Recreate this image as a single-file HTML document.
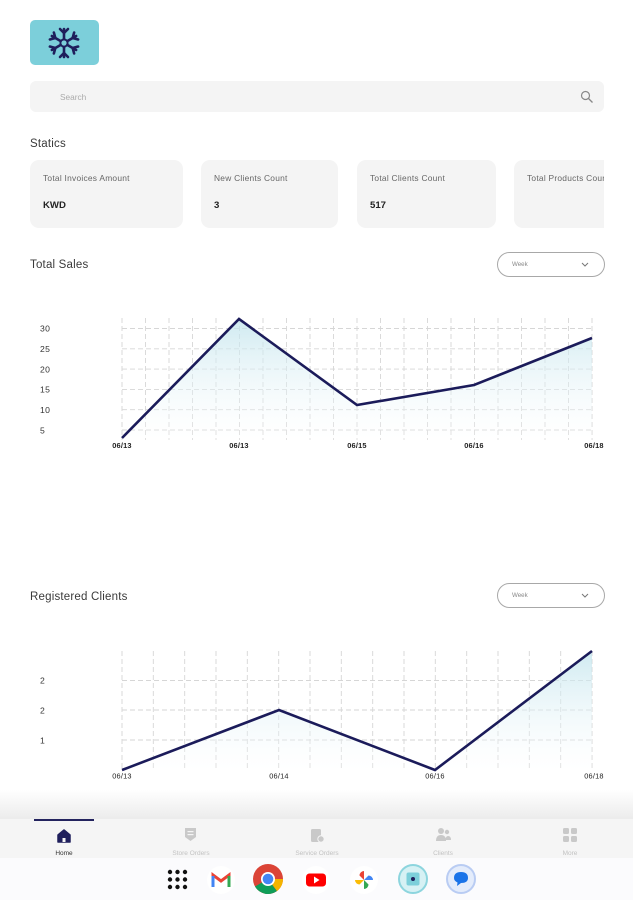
<!DOCTYPE html>
<html><head><meta charset="utf-8">
<style>
html,body{margin:0;padding:0;}
body{width:633px;height:900px;position:relative;overflow:hidden;background:#fff;font-family:"Liberation Sans",sans-serif;}
.abs{position:absolute;}
.card{position:absolute;top:160px;height:68px;background:#f4f4f4;border-radius:9px;overflow:hidden;}
.card .t{position:absolute;left:13px;top:13px;font-size:8.4px;letter-spacing:0.25px;color:#666;white-space:nowrap;}
.card .v{position:absolute;left:13px;top:40px;font-size:9.6px;font-weight:bold;color:#222;}
.h{position:absolute;left:30px;font-size:11.5px;letter-spacing:0.2px;color:#3a3a3a;}
.dd{position:absolute;left:497px;width:106px;height:23px;border:1px solid #a8a8a8;border-radius:13px;}
.dd span{position:absolute;left:14px;top:8px;font-size:6.2px;color:#888;}
.nl{position:absolute;top:850px;font-size:6.5px;color:#c2c2c2;transform:translateX(-50%);white-space:nowrap;}
</style></head><body>

<!-- logo -->
<div class="abs" style="left:30px;top:20px;width:69px;height:45px;background:#7ccfda;border-radius:5px;"></div>
<svg class="abs" style="left:44px;top:25px" width="40" height="36" viewBox="-20 -18 40 36">
 <g stroke="#1f1f5c" stroke-width="2.6" stroke-linecap="round" fill="none">
  <g id="arm"><line x1="0" y1="-4" x2="0" y2="-14"/><line x1="0" y1="-10" x2="-4" y2="-14"/><line x1="0" y1="-10" x2="4" y2="-14"/></g>
  <use href="#arm" transform="rotate(60)"/><use href="#arm" transform="rotate(120)"/><use href="#arm" transform="rotate(180)"/><use href="#arm" transform="rotate(240)"/><use href="#arm" transform="rotate(300)"/>
  <circle cx="0" cy="0" r="3.6" stroke-width="2"/>
 </g>
</svg>

<!-- search -->
<div class="abs" style="left:30px;top:81px;width:574px;height:31px;background:#f4f4f4;border-radius:6px;"></div>
<div class="abs" style="left:60px;top:92px;font-size:8.3px;color:#aaa;">Search</div>
<svg class="abs" style="left:580px;top:90px" width="14" height="14" viewBox="0 0 14 14"><circle cx="5.5" cy="5.5" r="4" stroke="#888" stroke-width="1.2" fill="none"/><line x1="8.5" y1="8.5" x2="12.5" y2="12.5" stroke="#888" stroke-width="1.3"/></svg>

<div class="h" style="top:138px;">Statics</div>

<div class="card" style="left:30px;width:153px;"><div class="t">Total Invoices Amount</div><div class="v">KWD</div></div>
<div class="card" style="left:201px;width:137px;"><div class="t">New Clients Count</div><div class="v">3</div></div>
<div class="card" style="left:357px;width:139px;"><div class="t">Total Clients Count</div><div class="v">517</div></div>
<div class="card" style="left:514px;width:90px;border-radius:9px 0 0 9px;"><div class="t">Total Products Count</div></div>

<div class="h" style="top:259px;">Total Sales</div>
<div class="dd" style="top:252px;"><span>Week</span>
<svg class="abs" style="left:83px;top:9px" width="8" height="6" viewBox="0 0 8 6"><polyline points="1,1 4,4 7,1" stroke="#777" stroke-width="1" fill="none"/></svg></div>

<div class="h" style="top:591px;">Registered Clients</div>
<div class="dd" style="top:583px;"><span>Week</span>
<svg class="abs" style="left:83px;top:9px" width="8" height="6" viewBox="0 0 8 6"><polyline points="1,1 4,4 7,1" stroke="#777" stroke-width="1" fill="none"/></svg></div>

<!-- charts -->
<svg class="abs" style="left:0;top:0" width="633" height="800" viewBox="0 0 633 800">
 <defs>
  <linearGradient id="g1" x1="0" y1="0" x2="0" y2="1"><stop offset="0" stop-color="#bfe3ec" stop-opacity="0.75"/><stop offset="1" stop-color="#ffffff" stop-opacity="0.2"/></linearGradient>
 </defs>
 <!-- chart 1 -->
 <g stroke="#d6d6d6" stroke-width="0.9" stroke-dasharray="5,3">
  <line x1="122" y1="328.5" x2="592" y2="328.5"/><line x1="122" y1="348.8" x2="592" y2="348.8"/>
  <line x1="122" y1="369.1" x2="592" y2="369.1"/><line x1="122" y1="389.4" x2="592" y2="389.4"/>
  <line x1="122" y1="409.7" x2="592" y2="409.7"/><line x1="122" y1="430" x2="592" y2="430"/>
 </g>
 <g stroke="#d6d6d6" stroke-width="0.9" stroke-dasharray="5,3">
  <line x1="122" y1="318" x2="122" y2="440"/><line x1="145.5" y1="318" x2="145.5" y2="440"/><line x1="169" y1="318" x2="169" y2="440"/><line x1="192.5" y1="318" x2="192.5" y2="440"/><line x1="216" y1="318" x2="216" y2="440"/><line x1="239.5" y1="318" x2="239.5" y2="440"/><line x1="263" y1="318" x2="263" y2="440"/><line x1="286.5" y1="318" x2="286.5" y2="440"/><line x1="310" y1="318" x2="310" y2="440"/><line x1="333.5" y1="318" x2="333.5" y2="440"/><line x1="357" y1="318" x2="357" y2="440"/><line x1="380.5" y1="318" x2="380.5" y2="440"/><line x1="404" y1="318" x2="404" y2="440"/><line x1="427.5" y1="318" x2="427.5" y2="440"/><line x1="451" y1="318" x2="451" y2="440"/><line x1="474.5" y1="318" x2="474.5" y2="440"/><line x1="498" y1="318" x2="498" y2="440"/><line x1="521.5" y1="318" x2="521.5" y2="440"/><line x1="545" y1="318" x2="545" y2="440"/><line x1="568.5" y1="318" x2="568.5" y2="440"/><line x1="592" y1="318" x2="592" y2="440"/>
 </g>
 <polygon points="122,438 239,319 357,405 474,385 592,338 592,440 122,440" fill="url(#g1)"/>
 <polyline points="122,438 239,319 357,405 474,385 592,338" fill="none" stroke="#1b1b5a" stroke-width="2.6" stroke-linejoin="miter"/>
 <g font-size="8.6" fill="#333" font-family="Liberation Sans, sans-serif" letter-spacing="0.4">
  <text x="40" y="331.5">30</text><text x="40" y="352">25</text><text x="40" y="372.5">20</text><text x="40" y="392.5">15</text><text x="40" y="413">10</text><text x="40" y="433.5">5</text>
 </g>
 <g font-size="7.4" font-weight="bold" fill="#222" text-anchor="middle" font-family="Liberation Sans, sans-serif" letter-spacing="0.2">
  <text x="122" y="448">06/13</text><text x="239" y="448">06/13</text><text x="357" y="448">06/15</text><text x="474" y="448">06/16</text><text x="594" y="448">06/18</text>
 </g>

 <!-- chart 2 -->
 <g stroke="#d6d6d6" stroke-width="0.9" stroke-dasharray="5,3">
  <line x1="122" y1="680.5" x2="592" y2="680.5"/><line x1="122" y1="710" x2="592" y2="710"/><line x1="122" y1="740" x2="592" y2="740"/>
 </g>
 <g stroke="#d6d6d6" stroke-width="0.9" stroke-dasharray="5,3">
  <line x1="122" y1="651" x2="122" y2="771"/><line x1="153.3" y1="651" x2="153.3" y2="771"/><line x1="184.7" y1="651" x2="184.7" y2="771"/><line x1="216" y1="651" x2="216" y2="771"/><line x1="247.3" y1="651" x2="247.3" y2="771"/><line x1="278.7" y1="651" x2="278.7" y2="771"/><line x1="310" y1="651" x2="310" y2="771"/><line x1="341.3" y1="651" x2="341.3" y2="771"/><line x1="372.7" y1="651" x2="372.7" y2="771"/><line x1="404" y1="651" x2="404" y2="771"/><line x1="435.3" y1="651" x2="435.3" y2="771"/><line x1="466.7" y1="651" x2="466.7" y2="771"/><line x1="498" y1="651" x2="498" y2="771"/><line x1="529.3" y1="651" x2="529.3" y2="771"/><line x1="560.7" y1="651" x2="560.7" y2="771"/><line x1="592" y1="651" x2="592" y2="771"/>
 </g>
 <polygon points="122,770 279,710 435,770 592,651 592,771 122,771" fill="url(#g1)"/>
 <polyline points="122,770 279,710 435,770 592,651" fill="none" stroke="#1b1b5a" stroke-width="2.6"/>
 <g font-size="8.6" fill="#333" font-family="Liberation Sans, sans-serif">
  <text x="40" y="683.5">2</text><text x="40" y="713.5">2</text><text x="40" y="743.5">1</text>
 </g>
 <g font-size="7.4" fill="#222" text-anchor="middle" font-family="Liberation Sans, sans-serif" letter-spacing="0.2">
  <text x="122" y="778.5">06/13</text><text x="279" y="778.5">06/14</text><text x="435" y="778.5">06/16</text><text x="594" y="778.5">06/18</text>
 </g>
</svg>

<!-- bottom nav shadow + bar -->
<div class="abs" style="left:0;top:790px;width:633px;height:30px;background:linear-gradient(#ffffff,#ebebeb);"></div>
<div class="abs" style="left:0;top:819px;width:633px;height:39px;background:#f5f5f5;"></div>
<div class="abs" style="left:34px;top:819px;width:60px;height:2px;background:#23235e;"></div>

<!-- nav icons -->
<svg class="abs" style="left:57px;top:829px" width="14" height="14" viewBox="0 0 14 14"><path d="M7 1 L13 6 L13 13 L1 13 L1 6 Z" fill="#1f1f5c" stroke="#1f1f5c" stroke-linejoin="round" stroke-width="1.5"/><rect x="5.5" y="9" width="3" height="4" fill="#f5f5f5"/></svg>
<svg class="abs" style="left:184px;top:827px" width="13" height="15" viewBox="0 0 13 15"><path d="M1 1 H12 V10 L6.5 14 L1 10 Z" fill="#c9c9c9"/><rect x="3.5" y="4" width="6" height="1.2" fill="#f5f5f5"/><rect x="3.5" y="7" width="6" height="1.2" fill="#f5f5f5"/></svg>
<svg class="abs" style="left:310px;top:827px" width="15" height="16" viewBox="0 0 15 16"><rect x="1" y="2" width="10" height="13" rx="1.5" fill="#c9c9c9"/><circle cx="11" cy="12" r="3.2" fill="#c9c9c9" stroke="#f5f5f5" stroke-width="1"/></svg>
<svg class="abs" style="left:436px;top:827px" width="15" height="16" viewBox="0 0 15 16"><circle cx="5" cy="4" r="3" fill="#c9c9c9"/><path d="M0 14 Q0 8 5 8 Q10 8 10 14 Z" fill="#c9c9c9"/><circle cx="11" cy="5" r="2.2" fill="#c9c9c9"/><path d="M9 13 Q10 9 12 9 Q15 9 15 13 Z" fill="#c9c9c9"/></svg>
<svg class="abs" style="left:563px;top:828px" width="14" height="14" viewBox="0 0 14 14"><rect x="0" y="0" width="6" height="6" rx="1.5" fill="#c9c9c9"/><rect x="8" y="0" width="6" height="6" rx="1.5" fill="#c9c9c9"/><rect x="0" y="8" width="6" height="6" rx="1.5" fill="#c9c9c9"/><rect x="8" y="8" width="6" height="6" rx="1.5" fill="#c9c9c9"/></svg>

<div class="nl" style="left:64px;color:#333;">Home</div>
<div class="nl" style="left:191px;">Store Orders</div>
<div class="nl" style="left:317px;">Service Orders</div>
<div class="nl" style="left:443px;">Clients</div>
<div class="nl" style="left:570px;">More</div>

<!-- dock -->
<div class="abs" style="left:0;top:858px;width:633px;height:42px;background:#fbfbfd;"></div>
<svg class="abs" style="left:167px;top:869px" width="21" height="21" viewBox="0 0 21 21" fill="#111">
 <circle cx="3" cy="3" r="2.2"/><circle cx="10.5" cy="3" r="2.2"/><circle cx="18" cy="3" r="2.2"/>
 <circle cx="3" cy="10.5" r="2.2"/><circle cx="10.5" cy="10.5" r="2.2"/><circle cx="18" cy="10.5" r="2.2"/>
 <circle cx="3" cy="18" r="2.2"/><circle cx="10.5" cy="18" r="2.2"/><circle cx="18" cy="18" r="2.2"/>
</svg>
<svg class="abs" style="left:207px;top:866px" width="28" height="28" viewBox="0 0 28 28">
 <circle cx="14" cy="14" r="14" fill="#fff"/>
 <path d="M6 21 V9 L14 15 L22 9 V21" fill="none" stroke="#ea4335" stroke-width="3"/>
 <path d="M6 21 V10" stroke="#4285f4" stroke-width="3"/><path d="M22 21 V10" stroke="#34a853" stroke-width="3"/>
</svg>
<svg class="abs" style="left:252px;top:863px" width="32" height="32" viewBox="0 0 32 32">
 <circle cx="16" cy="16" r="15" fill="#db4437"/>
 <path d="M16 16 L3 23.5 A15 15 0 0 0 25 28 Z" fill="#0f9d58"/>
 <path d="M16 16 L25 28 A15 15 0 0 0 31 16 L16 16 Z" fill="#f4b400"/>
 <circle cx="16" cy="16" r="7" fill="#fff"/><circle cx="16" cy="16" r="5.3" fill="#4285f4"/>
</svg>
<svg class="abs" style="left:302px;top:866px" width="28" height="28" viewBox="0 0 28 28">
 <circle cx="14" cy="14" r="14" fill="#fff"/>
 <rect x="4" y="7.5" width="20" height="13" rx="3.5" fill="#f00"/><path d="M12 10.5 L17.5 14 L12 17.5 Z" fill="#fff"/>
</svg>
<svg class="abs" style="left:350px;top:866px" width="28" height="28" viewBox="0 0 28 28">
 <circle cx="14" cy="14" r="14" fill="#fff"/>
 <path d="M14 14 L14 5 A4.5 4.5 0 0 0 9.5 9.5 Z" fill="#ea4335"/>
 <path d="M14 14 L23 14 A4.5 4.5 0 0 0 18.5 9.5 Z" fill="#4285f4"/>
 <path d="M14 14 L14 23 A4.5 4.5 0 0 0 18.5 18.5 Z" fill="#34a853"/>
 <path d="M14 14 L5 14 A4.5 4.5 0 0 0 9.5 18.5 Z" fill="#fbbc05"/>
</svg>
<svg class="abs" style="left:398px;top:864px" width="30" height="30" viewBox="0 0 30 30">
 <circle cx="15" cy="15" r="14" fill="#d6f1f4" stroke="#8dd5de" stroke-width="2"/>
 <rect x="8.5" y="8.5" width="13" height="13" rx="2" fill="#7ccfda"/><circle cx="15" cy="15" r="2" fill="#1f1f5c"/>
</svg>
<svg class="abs" style="left:446px;top:864px" width="30" height="30" viewBox="0 0 30 30">
 <circle cx="15" cy="15" r="14" fill="#e4ecfb" stroke="#b9ccf3" stroke-width="2"/>
 <path d="M8 14 Q8 8 15 8 Q22 8 22 14 Q22 19 15 19 L11 22 L11.5 18.5 Q8 17 8 14 Z" fill="#1a73e8"/>
</svg>

</body></html>
